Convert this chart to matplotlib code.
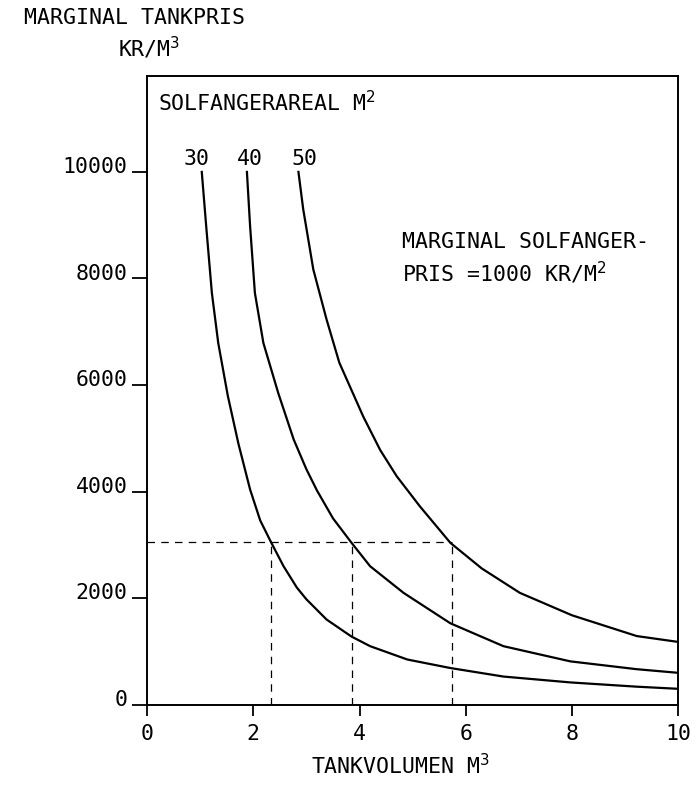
import matplotlib
matplotlib.use("Agg")
import matplotlib.pyplot as plt
import matplotlib.transforms as mtransforms

# tankvolumen (m3) og marginal tankpris (kr/m3) aflæst fra kurverne
x30 = [1.03, 1.12, 1.22, 1.34, 1.52, 1.72, 1.94, 2.13, 2.34, 2.57, 2.82, 3.00,
       3.38, 3.85, 4.20, 4.90, 5.71, 6.71, 7.97, 9.22, 10.0]
y30 = [10000, 8900, 7730, 6790, 5800, 4900, 4040, 3460, 3040, 2600, 2200, 1980,
       1600, 1280, 1100, 850, 690, 530, 420, 340, 300]

x40 = [1.88, 1.94, 2.03, 2.19, 2.47, 2.76, 3.00, 3.20, 3.50, 3.85, 4.20, 4.83,
       5.71, 6.71, 7.97, 9.22, 10.0]
y40 = [10000, 8980, 7730, 6790, 5850, 4980, 4420, 4020, 3500, 3040, 2600, 2100,
       1530, 1100, 815, 668, 600]

x50 = [2.85, 2.94, 3.13, 3.38, 3.62, 4.07, 4.39, 4.70, 5.14, 5.71, 6.30, 7.02,
       8.00, 9.22, 10.0]
y50 = [10000, 9300, 8170, 7230, 6420, 5410, 4780, 4290, 3720, 3040, 2560, 2100,
       1680, 1290, 1180]

areal = ["30", "40", "50"]
areal_x = [0.94, 1.94, 2.97]

# aflæsning ved tankpris 3050 kr/m3
pris_ref = 3050
vol_ref = [2.34, 3.85, 5.74]

xticks = [0, 2, 4, 6, 8, 10]
yticks = [0, 2000, 4000, 6000, 8000, 10000]

plt.rcParams["font.family"] = "DejaVu Sans Mono"
fs = 15.5

fig = plt.figure(figsize=(6.97, 8.0), dpi=100)
ax = fig.add_axes([0.211, 0.119, 0.762, 0.786])

for xs, ys in [(x30, y30), (x40, y40), (x50, y50)]:
    ax.plot(xs, ys, "-k", lw=1.6, solid_joinstyle="round")

ax.plot([0, vol_ref[-1]], [pris_ref, pris_ref], color="k", lw=0.9, dashes=(6, 5))
for v in vol_ref:
    ax.plot([v, v], [0, pris_ref], color="k", lw=0.9, dashes=(6, 5))

ax.set_xlim(0, 10)
ax.set_ylim(0, 11800)
ax.set_xticks(xticks)
ax.set_yticks(yticks)
ax.set_xticklabels([str(t) for t in xticks], fontsize=fs)
ax.set_yticklabels([str(t) for t in yticks], fontsize=fs)
ax.tick_params(axis="y", direction="out", length=11, width=1.3, pad=3)
ax.tick_params(axis="x", direction="out", length=8, width=1.3, pad=6)
# talene på y-aksen står lidt over stregen
off = mtransforms.ScaledTranslation(0, 5 / 72, fig.dpi_scale_trans)
for lab in ax.get_yticklabels():
    lab.set_transform(lab.get_transform() + off)
for s in ax.spines.values():
    s.set_linewidth(1.4)

for lab, xv in zip(areal, areal_x):
    ax.text(xv, 10250, lab, fontsize=fs, ha="center", va="center")

ax.text(0.21, 11300, "SOLFANGERAREAL M$^2$", fontsize=fs, va="center")
ax.text(4.80, 8680, "MARGINAL SOLFANGER-", fontsize=fs, va="center")
ax.text(4.80, 8110, "PRIS =1000 KR/M$^2$", fontsize=fs, va="center")

fig.text(0.034, 0.978, "MARGINAL TANKPRIS", fontsize=fs, va="center")
fig.text(0.170, 0.940, "KR/M$^3$", fontsize=fs, va="center")
fig.text(0.574, 0.043, "TANKVOLUMEN M$^3$", fontsize=fs, ha="center", va="center")

fig.savefig("out.png", dpi=100)
